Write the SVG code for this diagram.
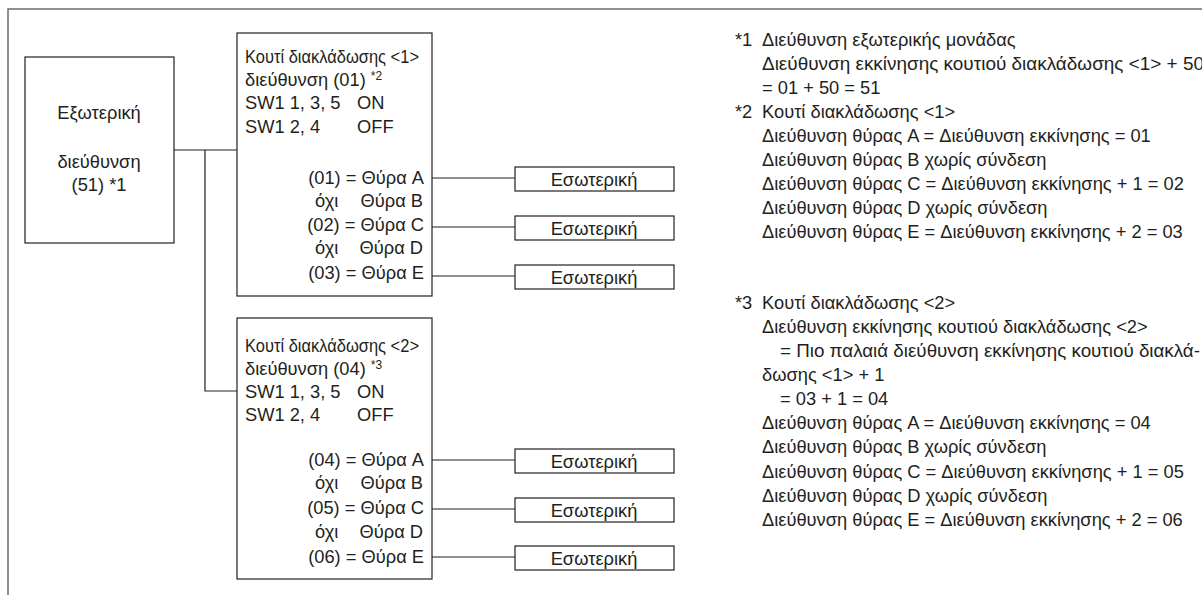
<svg xmlns="http://www.w3.org/2000/svg" width="1202" height="595" viewBox="0 0 1202 595">
<style>
  text { font-family: "Liberation Sans", Arial, sans-serif; font-size: 18.3px; fill: #231f20; }
  .box { fill: #ffffff; stroke: #231f20; stroke-width: 1.2; }
  .wire { fill: none; stroke: #231f20; stroke-width: 1.2; }
  .frame { fill: none; stroke: #6a6a6a; stroke-width: 1.5; }
  .mid { text-anchor: middle; }
  .end { text-anchor: end; }
  .sup { font-size: 12px; }
</style>
<rect x="0" y="0" width="1202" height="595" fill="#ffffff"/>
<g id="frame">
  <path class="frame" d="M8 595 V9 H1202"/>
</g>
<g id="connectors">
  <path class="wire" d="M174 150 H237"/>
  <path class="wire" d="M205 150 V391 H237"/>
  <path class="wire" d="M432 178 H515"/>
  <path class="wire" d="M432 227 H515"/>
  <path class="wire" d="M432 276 H515"/>
  <path class="wire" d="M432 460 H515"/>
  <path class="wire" d="M432 509 H515"/>
  <path class="wire" d="M432 557 H515"/>
</g>
<g id="outdoor">
  <rect class="box" x="25" y="57" width="149" height="186"/>
  <text class="mid" x="99" y="119">Εξωτερική</text>
  <text class="mid" x="99" y="168">διεύθυνση</text>
  <text class="mid" x="99" y="191">(51) *1</text>
</g>
<g id="branch1">
  <rect class="box" x="237" y="33" width="195" height="263"/>
  <text x="245" y="63" textLength="174" lengthAdjust="spacingAndGlyphs">Κουτί διακλάδωσης &lt;1&gt;</text>
  <text x="245" y="86">διεύθυνση (01) <tspan class="sup" dy="-6">*2</tspan></text>
  <text x="245" y="109">SW1 1, 3, 5</text><text x="357" y="109">ON</text>
  <text x="245" y="133">SW1 2, 4</text><text x="357" y="133">OFF</text>
  <text class="end" x="424" y="184">(01) = Θύρα A</text>
  <text x="315" y="207">όχι</text><text class="end" x="423" y="207">Θύρα B</text>
  <text class="end" x="424" y="231">(02) = Θύρα C</text>
  <text x="315" y="254">όχι</text><text class="end" x="423" y="254">Θύρα D</text>
  <text class="end" x="424" y="279">(03) = Θύρα E</text>
</g>
<g id="branch2">
  <rect class="box" x="237" y="318" width="195" height="261"/>
  <text x="245" y="352" textLength="174" lengthAdjust="spacingAndGlyphs">Κουτί διακλάδωσης &lt;2&gt;</text>
  <text x="245" y="375">διεύθυνση (04) <tspan class="sup" dy="-6">*3</tspan></text>
  <text x="245" y="398">SW1 1, 3, 5</text><text x="357" y="398">ON</text>
  <text x="245" y="421">SW1 2, 4</text><text x="357" y="421">OFF</text>
  <text class="end" x="424" y="466">(04) = Θύρα A</text>
  <text x="315" y="489">όχι</text><text class="end" x="423" y="489">Θύρα B</text>
  <text class="end" x="424" y="514">(05) = Θύρα C</text>
  <text x="315" y="538">όχι</text><text class="end" x="423" y="538">Θύρα D</text>
  <text class="end" x="424" y="563">(06) = Θύρα E</text>
</g>
<g id="indoor1"><rect class="box" x="515" y="167" width="159" height="24"/><text class="mid" x="594" y="186">Εσωτερική</text></g>
<g id="indoor2"><rect class="box" x="515" y="216" width="159" height="24"/><text class="mid" x="594" y="235">Εσωτερική</text></g>
<g id="indoor3"><rect class="box" x="515" y="265" width="159" height="24"/><text class="mid" x="594" y="284">Εσωτερική</text></g>
<g id="indoor4"><rect class="box" x="515" y="449" width="159" height="24"/><text class="mid" x="594" y="468">Εσωτερική</text></g>
<g id="indoor5"><rect class="box" x="515" y="498" width="159" height="24"/><text class="mid" x="594" y="517">Εσωτερική</text></g>
<g id="indoor6"><rect class="box" x="515" y="546" width="159" height="24"/><text class="mid" x="594" y="565">Εσωτερική</text></g>
<g id="notes">
  <text x="735" y="46">*1</text><text x="762" y="46">Διεύθυνση εξωτερικής μονάδας</text>
  <text x="762" y="70" textLength="442" lengthAdjust="spacingAndGlyphs">Διεύθυνση εκκίνησης κουτιού διακλάδωσης &lt;1&gt; + 50</text>
  <text x="762" y="94">= 01 + 50 = 51</text>
  <text x="735" y="118">*2</text><text x="762" y="118">Κουτί διακλάδωσης &lt;1&gt;</text>
  <text x="762" y="142">Διεύθυνση θύρας A = Διεύθυνση εκκίνησης = 01</text>
  <text x="762" y="166">Διεύθυνση θύρας B χωρίς σύνδεση</text>
  <text x="762" y="190">Διεύθυνση θύρας C = Διεύθυνση εκκίνησης + 1 = 02</text>
  <text x="762" y="214">Διεύθυνση θύρας D χωρίς σύνδεση</text>
  <text x="762" y="238">Διεύθυνση θύρας E = Διεύθυνση εκκίνησης + 2 = 03</text>
  <text x="735" y="309">*3</text><text x="762" y="309">Κουτί διακλάδωσης &lt;2&gt;</text>
  <text x="762" y="333">Διεύθυνση εκκίνησης κουτιού διακλάδωσης &lt;2&gt;</text>
  <text x="780" y="357" textLength="420" lengthAdjust="spacingAndGlyphs">= Πιο παλαιά διεύθυνση εκκίνησης κουτιού διακλά-</text>
  <text x="762" y="381">δωσης &lt;1&gt; + 1</text>
  <text x="780" y="405">= 03 + 1 = 04</text>
  <text x="762" y="429">Διεύθυνση θύρας A = Διεύθυνση εκκίνησης = 04</text>
  <text x="762" y="453">Διεύθυνση θύρας B χωρίς σύνδεση</text>
  <text x="762" y="478">Διεύθυνση θύρας C = Διεύθυνση εκκίνησης + 1 = 05</text>
  <text x="762" y="502">Διεύθυνση θύρας D χωρίς σύνδεση</text>
  <text x="762" y="526">Διεύθυνση θύρας E = Διεύθυνση εκκίνησης + 2 = 06</text>
</g>
</svg>
